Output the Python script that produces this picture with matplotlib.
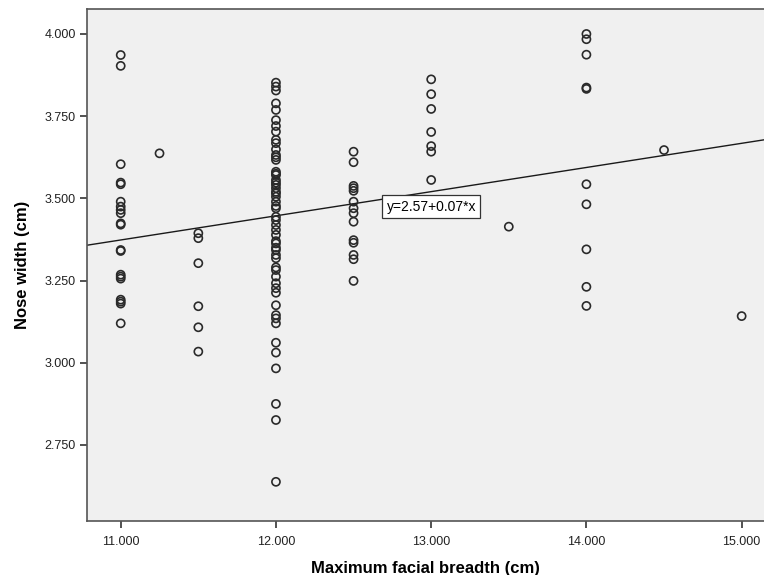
import numpy as np
import matplotlib.pyplot as plt

plt.rcParams['font.family'] = ['Liberation Sans', 'DejaVu Sans']

# nose width (cm) grouped by maximum facial breadth (cm)
breadth_groups = [11.0, 11.25, 11.5, 12.0, 12.5, 13.0, 13.5, 14.0, 14.5, 15.0]

nose_11 = [3.936, 3.903, 3.604, 3.548, 3.543, 3.490, 3.475, 3.465, 3.455,
           3.424, 3.420, 3.343, 3.340, 3.268, 3.262, 3.256, 3.192, 3.186,
           3.180, 3.120]
nose_11_25 = [3.637]
nose_11_5 = [3.394, 3.379, 3.303, 3.172, 3.108, 3.034]
nose_12 = [3.852, 3.840, 3.828, 3.789, 3.769, 3.738, 3.720, 3.703, 3.678,
           3.668, 3.649, 3.632, 3.625, 3.617, 3.581, 3.575, 3.571, 3.556,
           3.548, 3.541, 3.531, 3.520, 3.515, 3.505, 3.490, 3.477, 3.470,
           3.444, 3.434, 3.419, 3.404, 3.389, 3.370, 3.363, 3.350, 3.343,
           3.328, 3.318, 3.290, 3.282, 3.262, 3.242, 3.227, 3.213, 3.175,
           3.145, 3.135, 3.120, 3.061, 3.031, 2.983, 2.875, 2.826, 2.638]
nose_12_5 = [3.642, 3.610, 3.538, 3.531, 3.523, 3.490, 3.470, 3.455, 3.429,
             3.373, 3.365, 3.328, 3.315, 3.249]
nose_13 = [3.862, 3.817, 3.772, 3.702, 3.659, 3.642, 3.556]
nose_13_5 = [3.414]
nose_14 = [4.000, 3.984, 3.937, 3.837, 3.833, 3.543, 3.482, 3.345, 3.231, 3.173]
nose_14_5 = [3.647]
nose_15 = [3.142]

groups = [nose_11, nose_11_25, nose_11_5, nose_12, nose_12_5,
          nose_13, nose_13_5, nose_14, nose_14_5, nose_15]

# linear fit shown on the chart
fit_intercept = 2.565
fit_slope = 0.0735
fit_label = 'y=2.57+0.07*x'

x_ticks = [11.0, 12.0, 13.0, 14.0, 15.0]
y_ticks = [2.75, 3.0, 3.25, 3.5, 3.75, 4.0]

xs = np.concatenate([[b] * len(g) for b, g in zip(breadth_groups, groups)])
ys = np.concatenate(groups)

fig = plt.figure(figsize=(7.64, 5.75), dpi=100)
ax = fig.add_axes([0.1135, 0.094, 0.8865, 0.8898])
ax.set_facecolor('#f0f0f0')

ax.scatter(xs, ys, s=34, facecolors='none', edgecolors='#2a2a2a',
           linewidths=1.2, zorder=3)

xlim = (10.781, 15.144)
line_x = np.array(xlim)
ax.plot(line_x, fit_intercept + fit_slope * line_x, color='#1a1a1a',
        linewidth=1.0, zorder=2)

ax.text(13.0, 3.475, fit_label, ha='center', va='center', fontsize=10,
        zorder=4, bbox=dict(boxstyle='square,pad=0.3', facecolor='white',
                            edgecolor='#333333', linewidth=0.9))

ax.set_xlim(*xlim)
ax.set_ylim(2.519, 4.075)
ax.set_xticks(x_ticks)
ax.set_yticks(y_ticks)
ax.set_xticklabels(['%.3f' % v for v in x_ticks])
ax.set_yticklabels(['%.3f' % v for v in y_ticks])
ax.tick_params(direction='out', length=5, width=1.2, color='#333333',
               labelsize=9, labelcolor='#222222')
ax.tick_params(axis='x', pad=6)
ax.tick_params(axis='y', pad=3)

for side in ['left', 'bottom', 'top']:
    ax.spines[side].set_color('#555555')
    ax.spines[side].set_linewidth(1.2)
ax.spines['right'].set_visible(False)

ax.set_xlabel('Maximum facial breadth (cm)', fontsize=12, fontweight='bold',
              labelpad=9)
ax.set_ylabel('Nose width (cm)', fontsize=12, fontweight='bold', labelpad=10)

fig.savefig('out.png', dpi=100)
